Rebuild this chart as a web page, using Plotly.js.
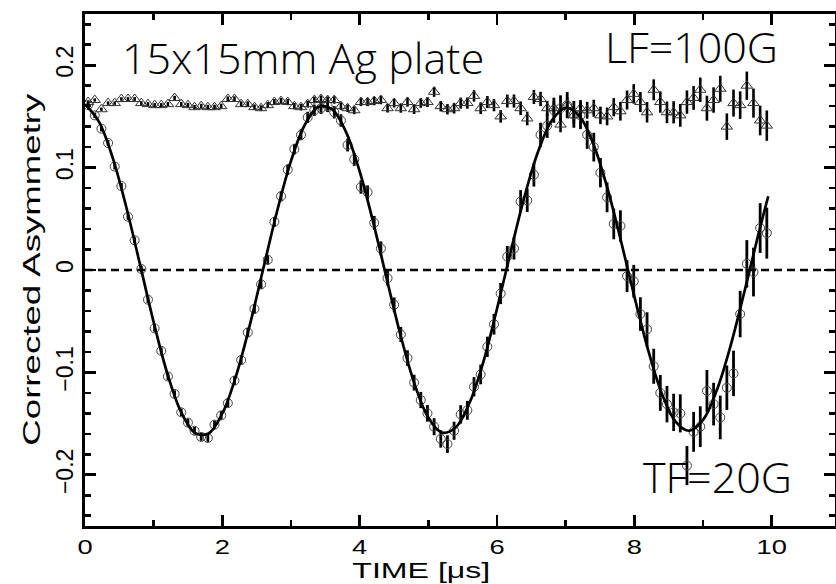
<!DOCTYPE html>
<html>
<head>
<meta charset="utf-8">
<script src="https://cdn.plot.ly/plotly-3.0.1.min.js"></script>
<style>html,body{margin:0;padding:0;background:#fff;}#chart{width:836px;height:584px;}</style>
</head>
<body>
<div id="chart"></div>
<script>
// Time bins (microseconds)
const time = [0.045,0.142,0.239,0.336,0.433,0.530,0.626,0.723,0.820,0.917,
1.014,1.111,1.208,1.305,1.402,1.499,1.595,1.692,1.789,1.886,
1.983,2.080,2.177,2.274,2.371,2.468,2.564,2.661,2.758,2.855,
2.952,3.049,3.146,3.243,3.340,3.437,3.533,3.630,3.727,3.824,
3.921,4.018,4.115,4.212,4.309,4.406,4.502,4.599,4.696,4.793,
4.890,4.987,5.084,5.181,5.278,5.375,5.471,5.568,5.665,5.762,
5.859,5.956,6.053,6.150,6.247,6.344,6.440,6.537,6.634,6.731,
6.828,6.925,7.022,7.119,7.216,7.313,7.409,7.506,7.603,7.700,
7.797,7.894,7.991,8.088,8.185,8.282,8.378,8.475,8.572,8.669,
8.766,8.863,8.960,9.057,9.154,9.251,9.347,9.444,9.541,9.638,
9.735,9.832,9.929];

// TF = 20G asymmetry (open circles)
const tfAsym = [0.161,0.151,0.138,0.124,0.101,0.082,0.052,0.029,0.001,-0.029,
-0.057,-0.079,-0.104,-0.121,-0.139,-0.149,-0.157,-0.163,-0.164,-0.151,
-0.142,-0.130,-0.108,-0.088,-0.061,-0.038,-0.014,0.010,0.047,0.072,
0.098,0.118,0.132,0.149,0.156,0.158,0.160,0.154,0.146,0.122,
0.108,0.081,0.076,0.046,0.021,-0.008,-0.034,-0.063,-0.086,-0.110,
-0.127,-0.140,-0.153,-0.165,-0.170,-0.157,-0.141,-0.137,-0.114,-0.102,
-0.075,-0.053,-0.023,0.013,0.021,0.067,0.068,0.093,0.132,0.141,
0.156,0.158,0.161,0.152,0.151,0.132,0.120,0.095,0.071,0.045,
0.043,-0.006,-0.011,-0.043,-0.058,-0.094,-0.120,-0.131,-0.139,-0.140,
-0.191,-0.158,-0.153,-0.118,-0.131,-0.144,-0.115,-0.101,-0.043,0.006,
-0.002,0.041,0.036];

const tfErr = [0.0026,0.0027,0.0027,0.0028,0.0028,0.0029,0.0030,0.0030,0.0031,0.0032,
0.0033,0.0033,0.0034,0.0035,0.0036,0.0037,0.0037,0.0038,0.0039,0.0040,
0.0041,0.0042,0.0043,0.0044,0.0045,0.0046,0.0047,0.0048,0.0049,0.0050,
0.0051,0.0052,0.0053,0.0055,0.0056,0.0057,0.0058,0.0060,0.0061,0.0062,
0.0063,0.0065,0.0066,0.0068,0.0069,0.0071,0.0072,0.0074,0.0076,0.0077,
0.0079,0.0081,0.0083,0.0085,0.0086,0.0088,0.0090,0.0092,0.0094,0.0096,
0.0099,0.0101,0.0103,0.0105,0.0108,0.0110,0.0113,0.0115,0.0118,0.0120,
0.0123,0.0126,0.0128,0.0131,0.0134,0.0137,0.0140,0.0143,0.0146,0.0150,
0.0153,0.0156,0.0160,0.0164,0.0167,0.0171,0.0175,0.0178,0.0182,0.0186,
0.0191,0.0195,0.0199,0.0204,0.0208,0.0213,0.0217,0.0222,0.0227,0.0232,
0.0238,0.0243,0.0249];

// LF = 100G asymmetry (open triangles)
const lfAsym = [0.164,0.166,0.157,0.163,0.163,0.167,0.167,0.167,0.163,0.162,
0.161,0.161,0.162,0.168,0.162,0.161,0.159,0.160,0.159,0.159,
0.160,0.167,0.167,0.162,0.162,0.159,0.158,0.161,0.164,0.165,
0.164,0.160,0.159,0.162,0.166,0.167,0.166,0.166,0.160,0.158,
0.156,0.164,0.164,0.165,0.166,0.158,0.163,0.158,0.164,0.157,
0.163,0.164,0.174,0.160,0.157,0.158,0.163,0.163,0.170,0.158,
0.164,0.161,0.150,0.165,0.165,0.158,0.148,0.169,0.167,0.158,
0.158,0.142,0.161,0.151,0.158,0.156,0.158,0.151,0.150,0.159,
0.155,0.166,0.172,0.164,0.154,0.176,0.164,0.154,0.154,0.151,
0.164,0.168,0.176,0.158,0.166,0.177,0.140,0.163,0.161,0.180,
0.163,0.146,0.141];

const lfErr = [0.0016,0.0016,0.0016,0.0017,0.0017,0.0017,0.0018,0.0018,0.0018,0.0019,
0.0020,0.0020,0.0020,0.0021,0.0021,0.0022,0.0022,0.0023,0.0023,0.0024,
0.0024,0.0025,0.0026,0.0026,0.0027,0.0027,0.0028,0.0029,0.0029,0.0030,
0.0030,0.0031,0.0032,0.0033,0.0033,0.0034,0.0035,0.0036,0.0036,0.0037,
0.0038,0.0039,0.0039,0.0041,0.0041,0.0042,0.0043,0.0044,0.0045,0.0046,
0.0047,0.0048,0.0049,0.0051,0.0051,0.0052,0.0054,0.0055,0.0056,0.0057,
0.0059,0.0060,0.0061,0.0063,0.0064,0.0066,0.0067,0.0069,0.0070,0.0072,
0.0073,0.0075,0.0076,0.0078,0.0080,0.0082,0.0083,0.0085,0.0087,0.0089,
0.0091,0.0093,0.0095,0.0098,0.0100,0.0102,0.0104,0.0106,0.0108,0.0111,
0.0114,0.0116,0.0119,0.0122,0.0124,0.0127,0.0129,0.0132,0.0135,0.0138,
0.0142,0.0145,0.0148];

// Fitted TF curve
const fitTime = [0,0.2,0.4,0.6,0.8,1.0,1.2,1.4,1.6,1.8,2.0,2.2,2.4,2.6,2.8,3.0,3.2,3.4,3.6,3.8,
4.0,4.2,4.4,4.6,4.8,5.0,5.2,5.4,5.6,5.8,6.0,6.2,6.4,6.6,6.8,7.0,7.2,7.4,7.6,7.8,
8.0,8.2,8.4,8.6,8.8,9.0,9.2,9.4,9.6,9.8,9.95];
const fitAsym = [0.1619,0.1451,0.1103,0.0618,0.0057,-0.0510,-0.1013,-0.1388,-0.1590,-0.1596,
-0.1401,-0.1033,-0.0538,0.0024,0.0581,0.1065,0.1416,0.1593,0.1568,0.1349,
0.0962,0.0458,-0.0103,-0.0650,-0.1115,-0.1443,-0.1588,-0.1536,-0.1297,-0.0900,
-0.0378,0.0181,0.0716,0.1159,0.1462,0.1582,0.1502,0.1236,0.0817,0.0298,
-0.0258,-0.0779,-0.1205,-0.1480,-0.1570,-0.1464,-0.1175,-0.0743,-0.0220,0.0331,0.0720];

const xTickVals = [0,2,4,6,8,10];
const xTickText = ['0','2','4','6','8','10'];
const yTickVals = [-0.2,-0.1,0,0.1,0.2];
const yTickText = ['\u22120.2','\u22120.1','0','0.1','0.2'];

const labelFont = {family:'Liberation Sans, Arial, sans-serif', size:21, color:'#000'};
const noteFont = {family:'Open Sans Light, Open Sans, Noto Sans, sans-serif', size:43, color:'#000', weight:300};

const traces = [
  {x:time, y:lfAsym, type:'scatter', mode:'markers', name:'LF=100G',
   marker:{symbol:'triangle-up-open', size:10, color:'#333', line:{width:1, color:'#333'}},
   error_y:{type:'data', array:lfErr, visible:true, color:'#000', thickness:2.6, width:0}},
  {x:time, y:tfAsym, type:'scatter', mode:'markers', name:'TF=20G',
   marker:{symbol:'circle-open', size:9, color:'#444', line:{width:1, color:'#444'}},
   error_y:{type:'data', array:tfErr, visible:true, color:'#000', thickness:2.8, width:0}},
  {x:fitTime, y:fitAsym, type:'scatter', mode:'lines', name:'fit',
   line:{color:'#000', width:2.7, shape:'spline'}}
];

const axisCommon = {showline:true, linecolor:'#000', linewidth:2.6, mirror:'ticks',
  ticks:'inside', ticklen:11, tickwidth:2.6, tickcolor:'#000', showgrid:false, zeroline:false,
  tickfont:labelFont};

const layout = {
  width:836, height:584,
  margin:{l:85, r:1, t:14, b:58, pad:0},
  paper_bgcolor:'#fff', plot_bgcolor:'#fff',
  showlegend:false,
  xaxis:Object.assign({}, axisCommon, {range:[0,10.922], tickvals:xTickVals, ticktext:xTickText,
    minor:{dtick:1, tick0:0, ticks:'inside', ticklen:6, tickwidth:2.6, tickcolor:'#000'}}),
  yaxis:Object.assign({}, axisCommon, {range:[-0.25,0.25], tickvals:yTickVals, ticktext:yTickText,
    tickangle:-90, tickfont:Object.assign({}, labelFont, {size:23}),
    minor:{dtick:0.02, tick0:0, ticks:'inside', ticklen:6, tickwidth:2.6, tickcolor:'#000'}}),
  shapes:[{type:'line', xref:'paper', x0:0, x1:1, yref:'y', y0:0, y1:0, layer:'below',
    line:{color:'#000', width:2.4, dash:'8px,5px'}}],
  annotations:[
    {text:'15x15mm Ag plate', xref:'x', yref:'y', x:0.51, y:0.208, xanchor:'left', yanchor:'middle', showarrow:false, font:noteFont},
    {text:'LF=100G', xref:'x', yref:'y', x:7.55, y:0.218, xanchor:'left', yanchor:'middle', showarrow:false, font:noteFont},
    {text:'TF=20G', xref:'x', yref:'y', x:8.1, y:-0.202, xanchor:'left', yanchor:'middle', showarrow:false, font:noteFont},
    {text:'TIME [\u03bcs]', xref:'paper', yref:'paper', x:0.448, y:-0.087, xanchor:'center', yanchor:'middle', showarrow:false, font:Object.assign({}, labelFont, {size:22})},
    {text:'Corrected Asymmetry', xref:'paper', yref:'paper', x:-0.072, y:0.5, xanchor:'center', yanchor:'middle', textangle:-90, showarrow:false, font:Object.assign({}, labelFont, {size:24})}
  ]
};

Plotly.newPlot('chart', traces, layout, {staticPlot:true, displayModeBar:false}).then(function(gd){
  // The reference uses wide, widely set plotting fonts: stretch the text along its own direction.
  function stretch(el, len){
    el.setAttribute('textLength', len);
    el.setAttribute('lengthAdjust', 'spacingAndGlyphs');
  }
  gd.querySelectorAll('.xtick text').forEach(function(t){
    stretch(t, t.getComputedTextLength()*1.3);
  });
  gd.querySelectorAll('text.annotation-text').forEach(function(t){
    if (t.textContent === 'Corrected Asymmetry') stretch(t, 352);
    if (t.textContent.indexOf('TIME') === 0) stretch(t, 138);
  });
});
</script>
</body>
</html>
